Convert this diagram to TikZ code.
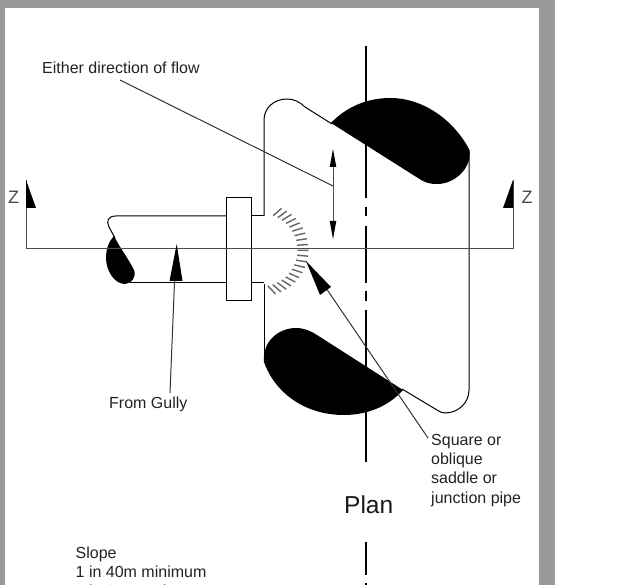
\documentclass[tikz,border=0pt]{standalone}
\usepackage{fontspec}
\setmainfont{Liberation Sans}
\definecolor{framegray}{HTML}{999999}
\definecolor{inkgray}{HTML}{222222}
\tikzset{
  px/.style={x=1pt,y=-1pt},
  lbl/.style={font=\fontsize{16}{19.3}\selectfont,text=inkgray,inner sep=0pt,align=left,anchor=north west},
  zlbl/.style={font=\fontsize{18}{18}\selectfont,text=black!70,inner sep=0pt,anchor=center},
  thin line/.style={draw=black!70,line width=1pt},
  pipe/.style={draw=black,line width=1pt},
  leader/.style={draw=black!80,line width=1pt},
  blob/.style={fill=black,draw=none},
  tick/.style={draw=black!60,line width=1.4pt},
  axis/.style={draw=black,line width=1.5pt},
  big tip/.style={fill=black,draw=none}
}
\begin{document}
\begin{tikzpicture}[px]
\useasboundingbox (0,0) rectangle (635,585);
\clip (0,0) rectangle (635,585);
\fill[white] (0,0) rectangle (635,585);
% frame
\fill[framegray] (0,0) rectangle (555,8.5);
\fill[framegray] (0,0) rectangle (4.5,585);
\fill[framegray] (539,0) rectangle (555,585);
% centre line
\draw[axis] (366,46) -- (366,198);
\draw[axis] (366,207) -- (366,216);
\draw[axis] (366,226) -- (366,283);
\draw[axis] (366,291) -- (366,301);
\draw[axis] (366,310) -- (366,462);
\draw[axis] (366,542) -- (366,575);
\draw[axis] (366,583) -- (366,590);
% section line
\draw[thin line] (26,180) -- (26,249) -- (513,249) -- (513,180);
\fill[big tip] (26,180) -- (36,208) -- (26,208) -- cycle;
\fill[big tip] (513,180) -- (503,208) -- (513,208) -- cycle;
\node[zlbl] (zl) at (13.5,197) {Z};
\node[zlbl] (zr) at (527,197) {Z};
% main pipe outline
\draw[pipe] (264,216) -- (264,120) .. controls (264,108) and (274,99) .. (287,99)
  .. controls (294,99) and (300,102) .. (305,107) -- (332,124);
\draw[pipe] (469,152) -- (469,390) .. controls (469,403) and (458,413) .. (445,413)
  .. controls (440,413) and (436,409) .. (432,407) -- (402,389);
\draw[pipe] (264,284) -- (264,355);
% top blob
\fill[blob] (331,123) .. controls (345,108) and (366,98) .. (390,98)
  .. controls (425,98) and (455,122) .. (469.5,150)
  .. controls (472,168) and (455,184) .. (437,184)
  .. controls (428,184) and (424,182) .. (418,178) -- cycle;
% bottom blob
\fill[blob] (264,362) .. controls (262,342) and (278,328) .. (296,328)
  .. controls (304,328) and (311,331) .. (317,335)
  -- (403,390)
  .. controls (388,407) and (366,415) .. (344,415)
  .. controls (305,415) and (275,393) .. (264,362) -- cycle;
% branch pipe
\draw[pipe] (226,216) -- (116,216) .. controls (108,216) and (106,221) .. (109,227) -- (115,238);
\draw[pipe] (226,283) -- (130,283);
\fill[blob] (114,236) .. controls (120,248) and (128,258) .. (134,270)
  .. controls (137,277) and (131,284) .. (125,284)
  .. controls (114,284) and (106,270) .. (106,258)
  .. controls (106,249) and (109,241) .. (114,236) -- cycle;
% flange
\draw[pipe,fill=white] (226,198) rectangle (251,301);
\draw[thin line] (26,249) -- (513,249);
\draw[pipe] (251,216) -- (264,216);
\draw[pipe] (251,283) -- (264,283);
% saddle ticks
\foreach \a in {-68,-60.4,-52.8,-45.2,-37.6,-30,-22.4,-14.8,-7.2,0.4,8,15.6,23.2,30.8,38.4,46,53.6,61.2,68.8,76.4}{
  \draw[tick] ({262+41*cos(\a)-5.5*cos(0.6*\a)},{250+41*sin(\a)-5.5*sin(0.6*\a)})
    -- ({262+41*cos(\a)+5.5*cos(0.6*\a)},{250+41*sin(\a)+5.5*sin(0.6*\a)});
}
% leaders
\coordinate (flowtip) at (333,186);
\coordinate (flowstart) at (120,80);
\draw[leader] (flowstart) -- (flowtip);
\draw[thin line] (333,160) -- (333,230);
\fill[big tip] (333,149) -- (336.3,167) -- (329.7,167) -- cycle;
\fill[big tip] (333,239) -- (336.3,221) -- (329.7,221) -- cycle;
\draw[leader] (170,393) -- (175,270);
\fill[big tip] (176.7,244) -- (182.5,281) -- (169.5,281) -- cycle;
\draw[leader] (428,438) -- (326,288);
\fill[big tip] (306,261) -- (331,287) -- (320,295) -- cycle;
% text
\node[lbl] (flow) at (42,62) {Either direction of flow};
\node[lbl] (gully) at (109,397) {From Gully};
\node[lbl] (sq) at (431,434) {Square or\\oblique\\saddle or\\junction pipe};
\node[lbl,font=\fontsize{24.5}{27}\selectfont,text=black!90] (plan) at (344,496) {Plan};
\node[lbl,font=\fontsize{16}{19}\selectfont] (slope) at (75.5,547) {Slope\\1 in 40m minimum\\1 in 8m maximum};
\end{tikzpicture}
\end{document}
